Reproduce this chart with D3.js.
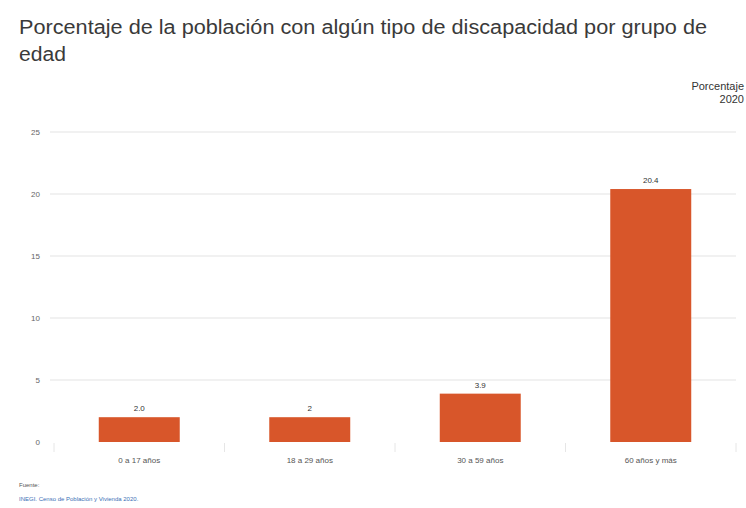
<!DOCTYPE html>
<html><head><meta charset="utf-8">
<script src="https://cdn.jsdelivr.net/npm/d3@7"></script>
<style>body{margin:0;background:#fff;font-family:Arial,"Liberation Sans",sans-serif;}</style>
</head><body><svg id="c" width="746" height="508"></svg>
<script>
const categories = ["0 a 17 años", "18 a 29 años", "30 a 59 años", "60 años y más"];
const values = [2.0, 2.0, 3.9, 20.4];
const valueLabels = ["2.0", "2", "3.9", "20.4"];
const yTicks = [0, 5, 10, 15, 20, 25];

const svg = d3.select("#c");
const W = 746, H = 508;
svg.append("rect").attr("width", W).attr("height", H).attr("fill", "#fff");

svg.append("text").attr("x", 19).attr("y", 34).attr("font-size", 19.5).attr("fill", "#3a3a3a")
  .attr("textLength", 688).attr("lengthAdjust", "spacingAndGlyphs")
  .text("Porcentaje de la población con algún tipo de discapacidad por grupo de");
svg.append("text").attr("x", 19).attr("y", 61).attr("font-size", 19.5).attr("fill", "#3a3a3a")
  .attr("textLength", 47).attr("lengthAdjust", "spacingAndGlyphs").text("edad");

svg.append("text").attr("x", 744).attr("y", 90).attr("text-anchor", "end").attr("font-size", 11).attr("fill", "#333").text("Porcentaje");
svg.append("text").attr("x", 744).attr("y", 103).attr("text-anchor", "end").attr("font-size", 11).attr("fill", "#333").text("2020");

const x = d3.scaleBand().domain(categories).range([54, 736]).paddingInner(0.525).paddingOuter(0.2625);
const y = d3.scaleLinear().domain([0, 25]).range([442, 132]);

const grid = svg.append("g");
grid.selectAll("line").data(yTicks.filter(d => d > 0)).join("line")
  .attr("x1", 50).attr("x2", 736).attr("y1", d => y(d)).attr("y2", d => y(d))
  .attr("stroke", "#e3e3e3").attr("stroke-width", 1);

const ya = svg.append("g").attr("transform", "translate(46,0)")
  .call(d3.axisLeft(y).tickValues(yTicks).tickSize(0).tickPadding(6));
ya.select(".domain").remove();
ya.selectAll("text").attr("font-size", 8).attr("fill", "#666").attr("font-family", "Arial, sans-serif");

// band-edge ticks
const step = x.step();
const edges = categories.map((c, i) => x(c) - (step - x.bandwidth()) / 2).concat([736]);
svg.append("g").selectAll("line").data(edges).join("line")
  .attr("x1", d => d).attr("x2", d => d).attr("y1", 443).attr("y2", 452)
  .attr("stroke", "#e6e6e6");

svg.append("g").selectAll("rect").data(values).join("rect")
  .attr("x", (d, i) => x(categories[i])).attr("width", x.bandwidth())
  .attr("y", d => y(d)).attr("height", d => y(0) - y(d)).attr("fill", "#d8562a");

svg.append("g").selectAll("text").data(values).join("text")
  .attr("x", (d, i) => x(categories[i]) + x.bandwidth() / 2).attr("y", d => y(d) - 6)
  .attr("text-anchor", "middle").attr("font-size", 8).attr("fill", "#333").text((d, i) => valueLabels[i]);

const xa = svg.append("g").attr("transform", "translate(0,442)")
  .call(d3.axisBottom(x).tickSize(0).tickPadding(15));
xa.select(".domain").remove();
xa.selectAll("text").attr("font-size", 8).attr("fill", "#555").attr("font-family", "Arial, sans-serif");

svg.append("text").attr("x", 19).attr("y", 487).attr("font-size", 6).attr("fill", "#555").text("Fuente:");
svg.append("text").attr("x", 19).attr("y", 501).attr("font-size", 6).attr("fill", "#3b6fb6").text("INEGI. Censo de Población y Vivienda 2020.");
</script></body></html>
